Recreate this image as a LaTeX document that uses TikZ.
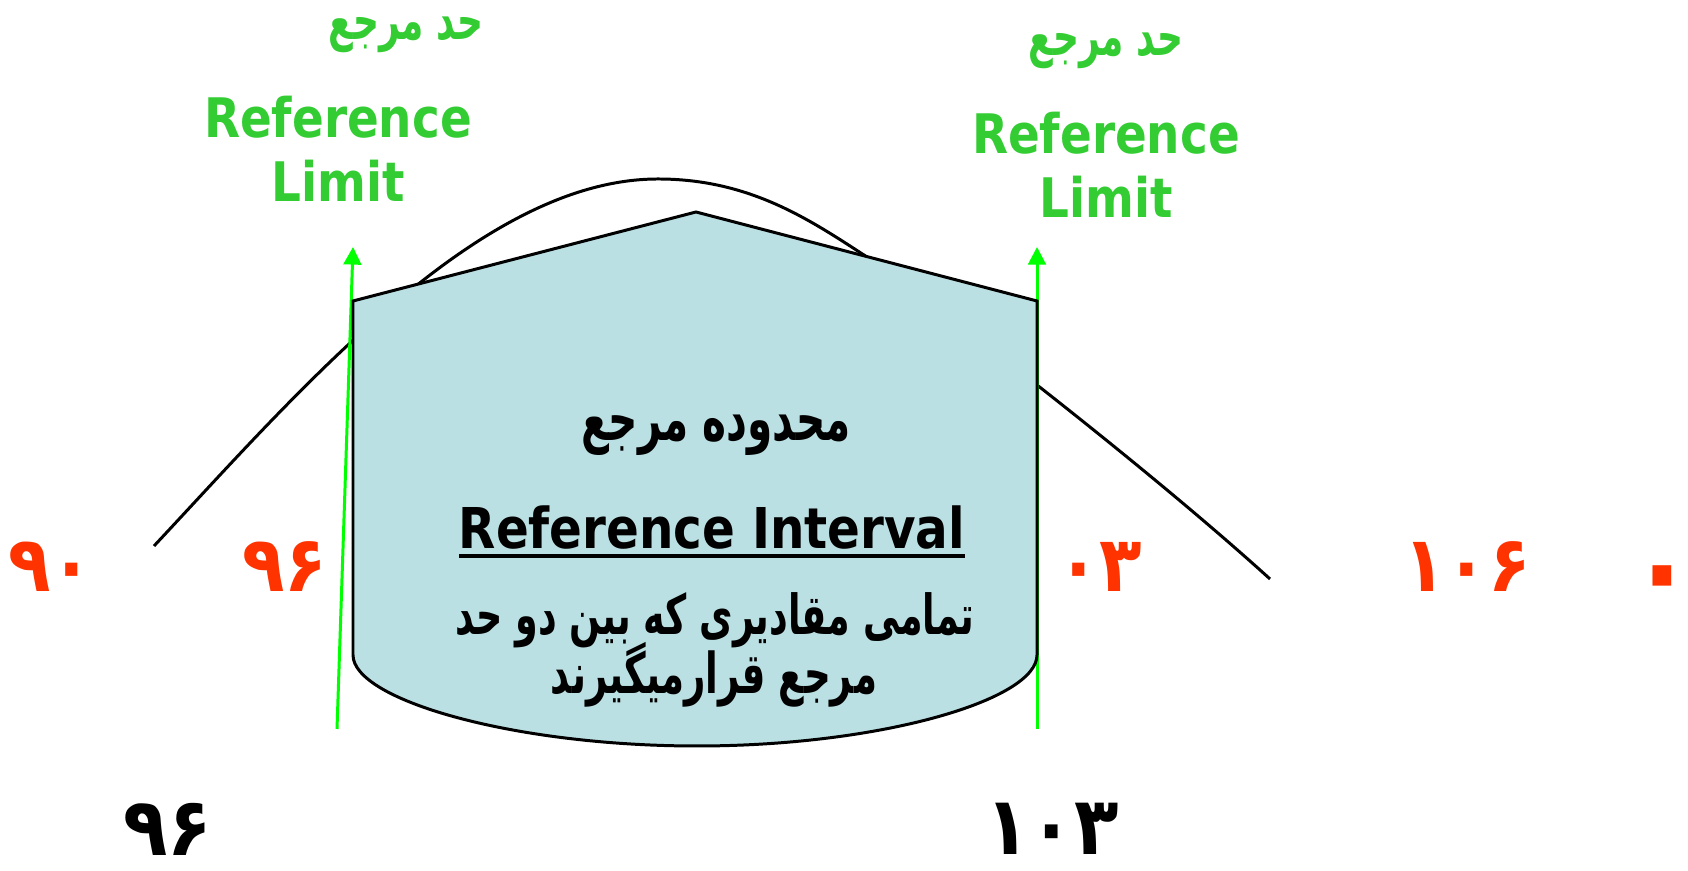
\documentclass[tikz,border=0pt]{standalone}
\usepackage{fontspec}
\setmainfont[FakeStretch=0.86]{DejaVu Sans}
\newfontfamily\fa[Script=Arabic,FakeStretch=0.66]{DejaVu Sans}
\newfontfamily\fanum[Script=Arabic,FakeStretch=0.9]{DejaVu Sans}
\TeXXeTstate=1
\usetikzlibrary{arrows.meta}
\definecolor{aqua}{HTML}{BBE0E3}
\definecolor{lime}{HTML}{00FF00}
\definecolor{leaf}{HTML}{33CC33}
\definecolor{fire}{HTML}{FF3300}
\newcommand\uline[1]{\setbox0\hbox{#1}\rlap{\rule[-2.6pt]{\wd0}{1.1pt}}\box0}
\begin{document}
\begin{tikzpicture}[x=0.01cm,y=-0.01cm,line cap=butt,line join=miter,>={Triangle[width=5pt,length=5pt]},line width=0.85pt]
	\tikzset{rtl/.style={font=\fa\bfseries\fontsize{16}{18}\selectfont},
		lim/.style={text=leaf,font=\bfseries\fontsize{15.5}{18}\selectfont},
		num/.style={inner sep=0pt,font=\fanum\bfseries\fontsize{22}{24}\selectfont}}
	\useasboundingbox (0,0) rectangle (1688,871);
	% منحنی
	\draw (154,546) .. controls (300,390) and (480,179) .. (658,179)
		.. controls (750,179) and (810,220) .. (867,257)
		.. controls (950,315) and (1150,470) .. (1270,579);
	% حد مرجع
	\coordinate (aL) at (337,729); \coordinate (tL) at (353,247);
	\coordinate (aR) at (1037,729); \coordinate (tR) at (1037,247);
	\draw[lime,->] (aL)--(tL);
	\draw[lime,->] (aR)--(tR);
	\filldraw[fill=aqua] (353,301)--(696,212)--(1037,301)--(1037,655)
		.. controls (1037,700) and (880,746) .. (697,746)
		.. controls (514,746) and (353,700) .. (353,655)--cycle;
	\node[rtl,font=\fa\bfseries\fontsize{17.5}{18}\selectfont] (ti) at (716,435) {\beginR محدوده مرجع\endR};
	\node[font=\bfseries\fontsize{16}{18}\selectfont,anchor=base] (ri) at (712,549) {\uline{Reference Interval}};
	\node[rtl,font=\fa\bfseries\fontsize{15.7}{18}\selectfont] (d1) at (715,620) {\beginR تمامی مقادیری كه بین دو حد\endR};
	\node[rtl] (d2) at (714,675) {\beginR مرجع قرارمیگیرند\endR};
	\foreach\x/\y/\a/\n in {338/138/406/L,1106/154/1106/R}{
		\node[lim,anchor=base,font=\fa\bfseries\fontsize{15.5}{18}\selectfont] (hd\n) at (\a,\y-98) {\beginR حد مرجع\endR};
		\node[lim,anchor=base] (rf\n) at (\x,\y) {Reference};
		\node[lim,anchor=base] (lm\n) at (\x,\y+64) {Limit};}
	\foreach\x/\t in {51/۹۰,285/۹۶,1100/۰۳,1467/۱۰۶}{
		\node[num,text=fire] (n\x) at (\x,567) {\t};}
	\node[num,text=fire,font=\fanum\bfseries\fontsize{34}{34}\selectfont] (n1665) at (1662,588) {\makebox[0pt]{۰}};
	\foreach\x/\t in {168/۹۶,1052/۱۰۳}{\node[num,font=\fanum\bfseries\fontsize{23}{24}\selectfont] (b\x) at (\x,829) {\t};}
\end{tikzpicture}
\end{document}
